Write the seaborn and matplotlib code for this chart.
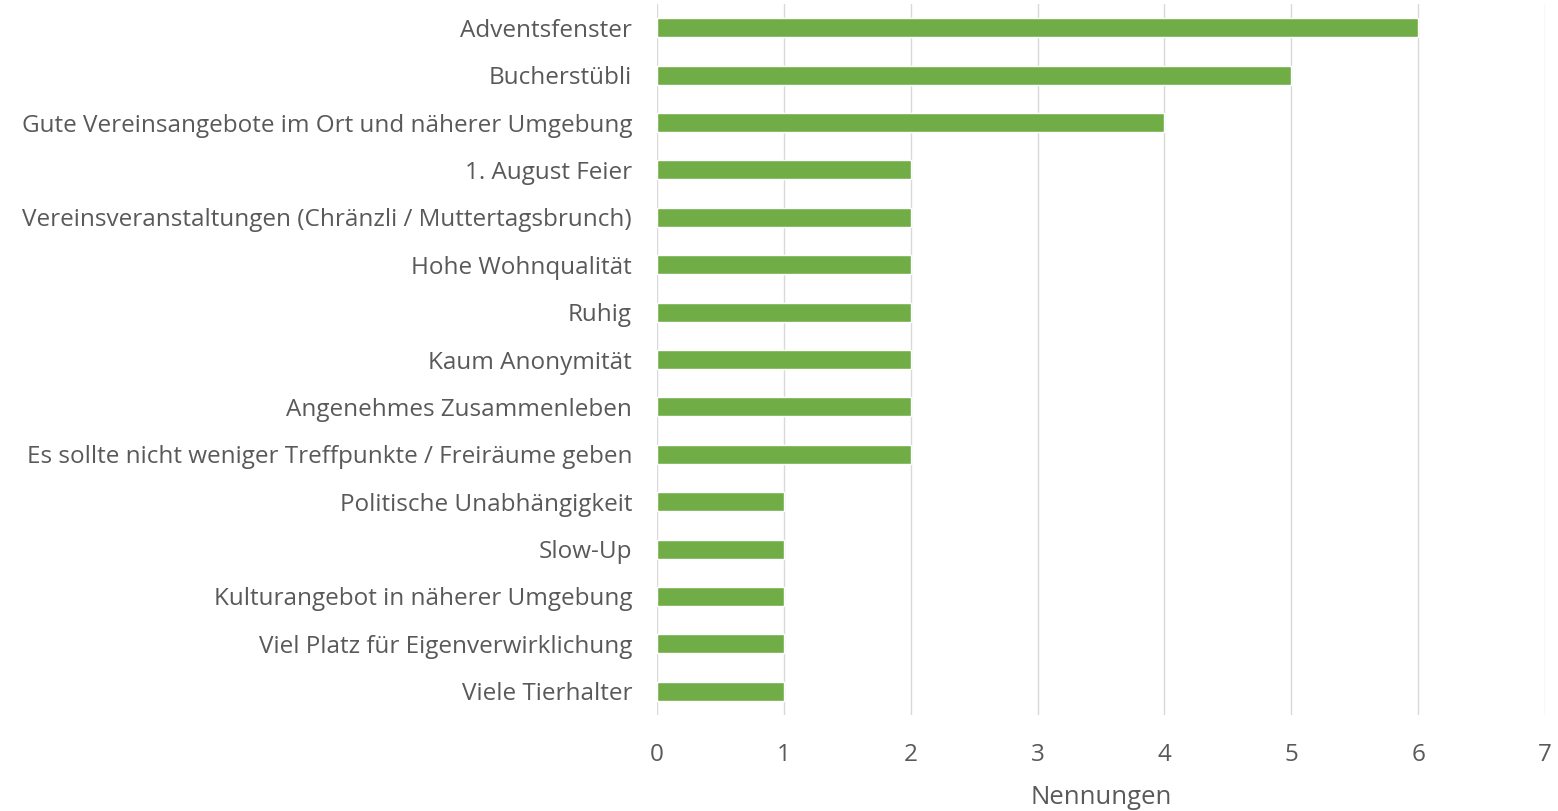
import matplotlib
matplotlib.use("Agg")
from matplotlib import pyplot as plt
import pandas as pd
import seaborn as sn

kategorien = [
    "Adventsfenster",
    "Bucherstübli",
    "Gute Vereinsangebote im Ort und näherer Umgebung",
    "1. August Feier",
    "Vereinsveranstaltungen (Chränzli / Muttertagsbrunch)",
    "Hohe Wohnqualität",
    "Ruhig",
    "Kaum Anonymität",
    "Angenehmes Zusammenleben",
    "Es sollte nicht weniger Treffpunkte / Freiräume geben",
    "Politische Unabhängigkeit",
    "Slow-Up",
    "Kulturangebot in näherer Umgebung",
    "Viel Platz für Eigenverwirklichung",
    "Viele Tierhalter",
]
nennungen = [6, 5, 4, 2, 2, 2, 2, 2, 2, 2, 1, 1, 1, 1, 1]
x_ticks = [0, 1, 2, 3, 4, 5, 6, 7]

df = pd.DataFrame({"Kategorie": kategorien, "Nennungen": nennungen})

sn.set_style("white")
plt.rcParams["font.family"] = ["Open Sans", "DejaVu Sans"]

fig = plt.figure(figsize=(15.58, 8.11), dpi=100)
ax = fig.add_axes([0.4217, 0.1184, 0.5700, 0.8766])

sn.barplot(data=df, x="Nennungen", y="Kategorie", color="#70AD47",
           saturation=1, width=0.4, ax=ax)

ax.set_xlim(0, 7)
ax.set_xticks(x_ticks)
ax.grid(axis="x", color="#D9D9D9", linewidth=1)
ax.set_axisbelow(True)
for s in ax.spines.values():
    s.set_visible(False)
ax.tick_params(axis="both", length=0, labelsize=17.5, colors="#595959")
ax.tick_params(axis="x", pad=20)
ax.tick_params(axis="y", pad=18)
ax.set_ylabel("")
ax.set_xlabel("Nennungen", fontsize=18.5, color="#595959", labelpad=13)

fig.savefig("out.png", dpi=100)
